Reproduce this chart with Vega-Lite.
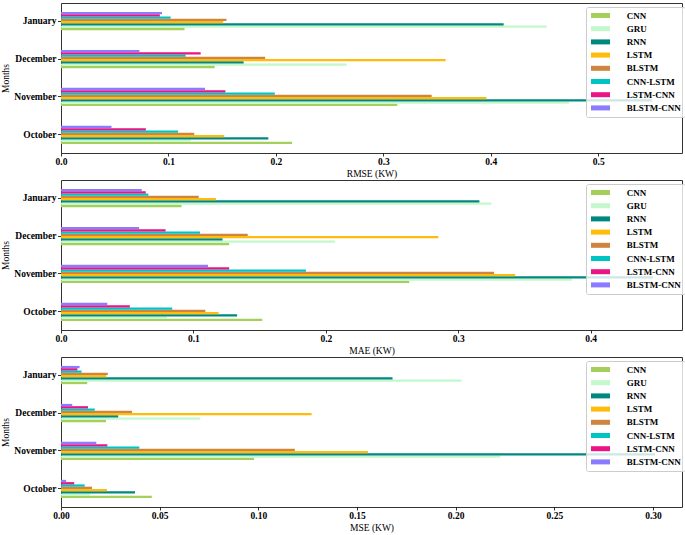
{
  "$schema": "https://vega.github.io/schema/vega-lite/v6.json",
  "padding": {"left": 0, "top": 2, "right": 2, "bottom": 2},
  "spacing": 1,
  "background": "white",
  "config": {
    "view": {"stroke": "#333333", "strokeWidth": 1},
    "axis": {
      "grid": false,
      "domain": false,
      "tickColor": "#000000",
      "tickWidth": 0.8,
      "labelFont": "Liberation Serif",
      "labelFontWeight": "bold",
      "labelFontSize": 9.5,
      "labelColor": "#000000",
      "titleFont": "Liberation Serif",
      "titleFontWeight": "normal",
      "titleFontSize": 9.5,
      "titleColor": "#000000"
    },
    "axisX": {"tickSize": 3, "labelPadding": 0.5, "titlePadding": 2, "labelFlush": false},
    "axisY": {"tickSize": 3.5, "labelPadding": 1.5, "titlePadding": 3},
    "legend": {
      "orient": "none",
      "legendX": 525,
      "legendY": 4,
      "zindex": 1,
      "title": null,
      "fillColor": "rgba(255,255,255,0.8)",
      "strokeColor": "#cccccc",
      "cornerRadius": 2,
      "padding": 4,
      "labelFont": "Liberation Serif",
      "labelFontWeight": "bold",
      "labelFontSize": 9,
      "labelColor": "#000000",
      "symbolType": "M-3.8,-1H3.8V1H-3.8Z",
      "symbolSize": 25,
      "symbolStrokeWidth": 0,
      "symbolOpacity": 1,
      "symbolOffset": 6,
      "labelOffset": 21.7,
      "rowPadding": 3.2
    }
  },
  "datasets": {
    "scores": [
      {"metric": "RMSE", "month": "January", "model": "CNN", "value": 0.115},
      {"metric": "RMSE", "month": "January", "model": "GRU", "value": 0.452},
      {"metric": "RMSE", "month": "January", "model": "RNN", "value": 0.412},
      {"metric": "RMSE", "month": "January", "model": "LSTM", "value": 0.151},
      {"metric": "RMSE", "month": "January", "model": "BLSTM", "value": 0.154},
      {"metric": "RMSE", "month": "January", "model": "CNN-LSTM", "value": 0.102},
      {"metric": "RMSE", "month": "January", "model": "LSTM-CNN", "value": 0.092},
      {"metric": "RMSE", "month": "January", "model": "BLSTM-CNN", "value": 0.094},
      {"metric": "RMSE", "month": "December", "model": "CNN", "value": 0.143},
      {"metric": "RMSE", "month": "December", "model": "GRU", "value": 0.266},
      {"metric": "RMSE", "month": "December", "model": "RNN", "value": 0.170},
      {"metric": "RMSE", "month": "December", "model": "LSTM", "value": 0.358},
      {"metric": "RMSE", "month": "December", "model": "BLSTM", "value": 0.190},
      {"metric": "RMSE", "month": "December", "model": "CNN-LSTM", "value": 0.116},
      {"metric": "RMSE", "month": "December", "model": "LSTM-CNN", "value": 0.130},
      {"metric": "RMSE", "month": "December", "model": "BLSTM-CNN", "value": 0.073},
      {"metric": "RMSE", "month": "November", "model": "CNN", "value": 0.313},
      {"metric": "RMSE", "month": "November", "model": "GRU", "value": 0.473},
      {"metric": "RMSE", "month": "November", "model": "RNN", "value": 0.550},
      {"metric": "RMSE", "month": "November", "model": "LSTM", "value": 0.396},
      {"metric": "RMSE", "month": "November", "model": "BLSTM", "value": 0.345},
      {"metric": "RMSE", "month": "November", "model": "CNN-LSTM", "value": 0.199},
      {"metric": "RMSE", "month": "November", "model": "LSTM-CNN", "value": 0.153},
      {"metric": "RMSE", "month": "November", "model": "BLSTM-CNN", "value": 0.134},
      {"metric": "RMSE", "month": "October", "model": "CNN", "value": 0.215},
      {"metric": "RMSE", "month": "October", "model": "GRU", "value": 0.121},
      {"metric": "RMSE", "month": "October", "model": "RNN", "value": 0.193},
      {"metric": "RMSE", "month": "October", "model": "LSTM", "value": 0.152},
      {"metric": "RMSE", "month": "October", "model": "BLSTM", "value": 0.124},
      {"metric": "RMSE", "month": "October", "model": "CNN-LSTM", "value": 0.109},
      {"metric": "RMSE", "month": "October", "model": "LSTM-CNN", "value": 0.079},
      {"metric": "RMSE", "month": "October", "model": "BLSTM-CNN", "value": 0.047},

      {"metric": "MAE", "month": "January", "model": "CNN", "value": 0.091},
      {"metric": "MAE", "month": "January", "model": "GRU", "value": 0.325},
      {"metric": "MAE", "month": "January", "model": "RNN", "value": 0.316},
      {"metric": "MAE", "month": "January", "model": "LSTM", "value": 0.117},
      {"metric": "MAE", "month": "January", "model": "BLSTM", "value": 0.104},
      {"metric": "MAE", "month": "January", "model": "CNN-LSTM", "value": 0.066},
      {"metric": "MAE", "month": "January", "model": "LSTM-CNN", "value": 0.064},
      {"metric": "MAE", "month": "January", "model": "BLSTM-CNN", "value": 0.061},
      {"metric": "MAE", "month": "December", "model": "CNN", "value": 0.127},
      {"metric": "MAE", "month": "December", "model": "GRU", "value": 0.207},
      {"metric": "MAE", "month": "December", "model": "RNN", "value": 0.122},
      {"metric": "MAE", "month": "December", "model": "LSTM", "value": 0.285},
      {"metric": "MAE", "month": "December", "model": "BLSTM", "value": 0.141},
      {"metric": "MAE", "month": "December", "model": "CNN-LSTM", "value": 0.105},
      {"metric": "MAE", "month": "December", "model": "LSTM-CNN", "value": 0.079},
      {"metric": "MAE", "month": "December", "model": "BLSTM-CNN", "value": 0.059},
      {"metric": "MAE", "month": "November", "model": "CNN", "value": 0.263},
      {"metric": "MAE", "month": "November", "model": "GRU", "value": 0.386},
      {"metric": "MAE", "month": "November", "model": "RNN", "value": 0.447},
      {"metric": "MAE", "month": "November", "model": "LSTM", "value": 0.343},
      {"metric": "MAE", "month": "November", "model": "BLSTM", "value": 0.327},
      {"metric": "MAE", "month": "November", "model": "CNN-LSTM", "value": 0.185},
      {"metric": "MAE", "month": "November", "model": "LSTM-CNN", "value": 0.127},
      {"metric": "MAE", "month": "November", "model": "BLSTM-CNN", "value": 0.111},
      {"metric": "MAE", "month": "October", "model": "CNN", "value": 0.152},
      {"metric": "MAE", "month": "October", "model": "GRU", "value": 0.080},
      {"metric": "MAE", "month": "October", "model": "RNN", "value": 0.133},
      {"metric": "MAE", "month": "October", "model": "LSTM", "value": 0.119},
      {"metric": "MAE", "month": "October", "model": "BLSTM", "value": 0.109},
      {"metric": "MAE", "month": "October", "model": "CNN-LSTM", "value": 0.084},
      {"metric": "MAE", "month": "October", "model": "LSTM-CNN", "value": 0.052},
      {"metric": "MAE", "month": "October", "model": "BLSTM-CNN", "value": 0.035},

      {"metric": "MSE", "month": "January", "model": "CNN", "value": 0.0133},
      {"metric": "MSE", "month": "January", "model": "GRU", "value": 0.203},
      {"metric": "MSE", "month": "January", "model": "RNN", "value": 0.168},
      {"metric": "MSE", "month": "January", "model": "LSTM", "value": 0.023},
      {"metric": "MSE", "month": "January", "model": "BLSTM", "value": 0.0237},
      {"metric": "MSE", "month": "January", "model": "CNN-LSTM", "value": 0.0104},
      {"metric": "MSE", "month": "January", "model": "LSTM-CNN", "value": 0.0083},
      {"metric": "MSE", "month": "January", "model": "BLSTM-CNN", "value": 0.0094},
      {"metric": "MSE", "month": "December", "model": "CNN", "value": 0.0228},
      {"metric": "MSE", "month": "December", "model": "GRU", "value": 0.0706},
      {"metric": "MSE", "month": "December", "model": "RNN", "value": 0.029},
      {"metric": "MSE", "month": "December", "model": "LSTM", "value": 0.127},
      {"metric": "MSE", "month": "December", "model": "BLSTM", "value": 0.036},
      {"metric": "MSE", "month": "December", "model": "CNN-LSTM", "value": 0.0171},
      {"metric": "MSE", "month": "December", "model": "LSTM-CNN", "value": 0.0137},
      {"metric": "MSE", "month": "December", "model": "BLSTM-CNN", "value": 0.0057},
      {"metric": "MSE", "month": "November", "model": "CNN", "value": 0.0978},
      {"metric": "MSE", "month": "November", "model": "GRU", "value": 0.2226},
      {"metric": "MSE", "month": "November", "model": "RNN", "value": 0.301},
      {"metric": "MSE", "month": "November", "model": "LSTM", "value": 0.1556},
      {"metric": "MSE", "month": "November", "model": "BLSTM", "value": 0.1185},
      {"metric": "MSE", "month": "November", "model": "CNN-LSTM", "value": 0.0397},
      {"metric": "MSE", "month": "November", "model": "LSTM-CNN", "value": 0.0235},
      {"metric": "MSE", "month": "November", "model": "BLSTM-CNN", "value": 0.0179},
      {"metric": "MSE", "month": "October", "model": "CNN", "value": 0.046},
      {"metric": "MSE", "month": "October", "model": "GRU", "value": 0.0149},
      {"metric": "MSE", "month": "October", "model": "RNN", "value": 0.0375},
      {"metric": "MSE", "month": "October", "model": "LSTM", "value": 0.0233},
      {"metric": "MSE", "month": "October", "model": "BLSTM", "value": 0.0157},
      {"metric": "MSE", "month": "October", "model": "CNN-LSTM", "value": 0.012},
      {"metric": "MSE", "month": "October", "model": "LSTM-CNN", "value": 0.0067},
      {"metric": "MSE", "month": "October", "model": "BLSTM-CNN", "value": 0.0026}
    ]
  },
  "data": {"name": "scores"},
  "resolve": {"legend": {"color": "independent"}, "scale": {"x": "independent"}},
  "vconcat": [
    {
      "width": 621,
      "height": 150,
      "transform": [{"filter": "datum.metric === 'RMSE'"}],
      "mark": {"type": "bar"},
      "encoding": {
        "y": {"field": "month", "type": "nominal", "sort": ["January", "December", "November", "October"], "scale": {"paddingInner": 0.52, "paddingOuter": 0.235}, "axis": {"title": "Months"}},
        "yOffset": {"field": "model", "type": "nominal", "sort": ["BLSTM-CNN", "LSTM-CNN", "CNN-LSTM", "BLSTM", "LSTM", "RNN", "GRU", "CNN"], "scale": {"paddingInner": 0, "paddingOuter": 0}},
        "x": {"field": "value", "type": "quantitative", "scale": {"domain": [0, 0.578], "nice": false}, "axis": {"title": "RMSE (KW)", "values": [0, 0.1, 0.2, 0.3, 0.4, 0.5], "format": ".1f"}},
        "color": {"field": "model", "type": "nominal", "scale": {"domain": ["CNN", "GRU", "RNN", "LSTM", "BLSTM", "CNN-LSTM", "LSTM-CNN", "BLSTM-CNN"], "range": ["#a4cf5b", "#c2f8cb", "#00877f", "#ffbc0a", "#cd853f", "#00c4c4", "#ea1485", "#8b7bff"]}}
      }
    },
    {
      "width": 621,
      "height": 150,
      "transform": [{"filter": "datum.metric === 'MAE'"}],
      "mark": {"type": "bar"},
      "encoding": {
        "y": {"field": "month", "type": "nominal", "sort": ["January", "December", "November", "October"], "scale": {"paddingInner": 0.52, "paddingOuter": 0.235}, "axis": {"title": "Months"}},
        "yOffset": {"field": "model", "type": "nominal", "sort": ["BLSTM-CNN", "LSTM-CNN", "CNN-LSTM", "BLSTM", "LSTM", "RNN", "GRU", "CNN"], "scale": {"paddingInner": 0, "paddingOuter": 0}},
        "x": {"field": "value", "type": "quantitative", "scale": {"domain": [0, 0.469], "nice": false}, "axis": {"title": "MAE (KW)", "values": [0, 0.1, 0.2, 0.3, 0.4], "format": ".1f"}},
        "color": {"field": "model", "type": "nominal", "scale": {"domain": ["CNN", "GRU", "RNN", "LSTM", "BLSTM", "CNN-LSTM", "LSTM-CNN", "BLSTM-CNN"], "range": ["#a4cf5b", "#c2f8cb", "#00877f", "#ffbc0a", "#cd853f", "#00c4c4", "#ea1485", "#8b7bff"]}}
      }
    },
    {
      "width": 621,
      "height": 150,
      "transform": [{"filter": "datum.metric === 'MSE'"}],
      "mark": {"type": "bar"},
      "encoding": {
        "y": {"field": "month", "type": "nominal", "sort": ["January", "December", "November", "October"], "scale": {"paddingInner": 0.52, "paddingOuter": 0.235}, "axis": {"title": "Months"}},
        "yOffset": {"field": "model", "type": "nominal", "sort": ["BLSTM-CNN", "LSTM-CNN", "CNN-LSTM", "BLSTM", "LSTM", "RNN", "GRU", "CNN"], "scale": {"paddingInner": 0, "paddingOuter": 0}},
        "x": {"field": "value", "type": "quantitative", "scale": {"domain": [0, 0.3147], "nice": false}, "axis": {"title": "MSE (KW)", "values": [0, 0.05, 0.1, 0.15, 0.2, 0.25, 0.3], "format": ".2f"}},
        "color": {"field": "model", "type": "nominal", "scale": {"domain": ["CNN", "GRU", "RNN", "LSTM", "BLSTM", "CNN-LSTM", "LSTM-CNN", "BLSTM-CNN"], "range": ["#a4cf5b", "#c2f8cb", "#00877f", "#ffbc0a", "#cd853f", "#00c4c4", "#ea1485", "#8b7bff"]}}
      }
    }
  ]
}
